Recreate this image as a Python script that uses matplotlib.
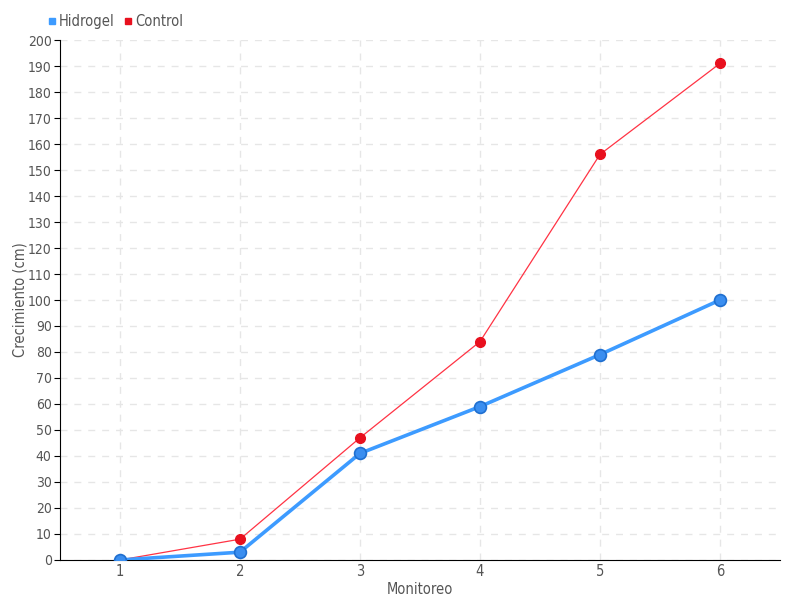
import matplotlib
matplotlib.use("Agg")
import matplotlib.pyplot as plt
from matplotlib.lines import Line2D

categories = [1, 2, 3, 4, 5, 6]
hidrogel = [0, 3, 41, 59, 79, 100]
control = [0, 8, 47, 84, 156, 191]
yticks = list(range(0, 201, 10))

plt.rcParams['font.family'] = ['DejaVu Sans']
plt.rcParams['font.stretch'] = 'condensed'
txt = '#555555'

fig = plt.figure(figsize=(8, 6), dpi=100)
ax = fig.add_axes([0.075, 0.0667, 0.9, 0.8666])

ax.plot(categories, control, color='#ff3344', lw=0.9, marker='o', ms=7,
        mfc='#e8101e', mec='#e8101e', zorder=3)
ax.plot(categories, hidrogel, color='#3d9bff', lw=2.6, marker='o', ms=8.5,
        mfc='#3a8ef0', mec='#1f6fd0', mew=1.2, zorder=4)

ax.set_xlim(0.5, 6.5)
ax.set_ylim(0, 200)
ax.set_xticks(categories)
ax.set_yticks(yticks)
ax.grid(True, color='#e6e6e6', ls=(0, (5, 5)), lw=1)
ax.set_axisbelow(True)
for s in ['top', 'right']:
    ax.spines[s].set_visible(False)
ax.spines['left'].set_color('black')
ax.spines['bottom'].set_color('black')
ax.tick_params(axis='y', length=4, color='black', labelcolor=txt, labelsize=10, pad=2)
ax.tick_params(axis='x', length=0, labelcolor=txt, labelsize=10.5, pad=3)
ax.set_xlabel('Monitoreo', color=txt, fontsize=10.5, labelpad=2)
ax.set_ylabel('Crecimiento (cm)', color=txt, fontsize=10.5)
ax.yaxis.set_label_coords(-0.045, 0.5)

handles = [Line2D([], [], ls='none', marker='s', ms=5, mfc='#3d9bff', mec='#3d9bff'),
           Line2D([], [], ls='none', marker='s', ms=5, mfc='#e8101e', mec='#e8101e')]
fig.legend(handles, ['Hidrogel', 'Control'], loc='upper left', bbox_to_anchor=(0.043, 0.998),
           ncol=2, frameon=False, fontsize=10.5, handlelength=0.6, handletextpad=0.2,
           columnspacing=0.6, labelcolor=txt)

fig.savefig('out.png', dpi=100)
